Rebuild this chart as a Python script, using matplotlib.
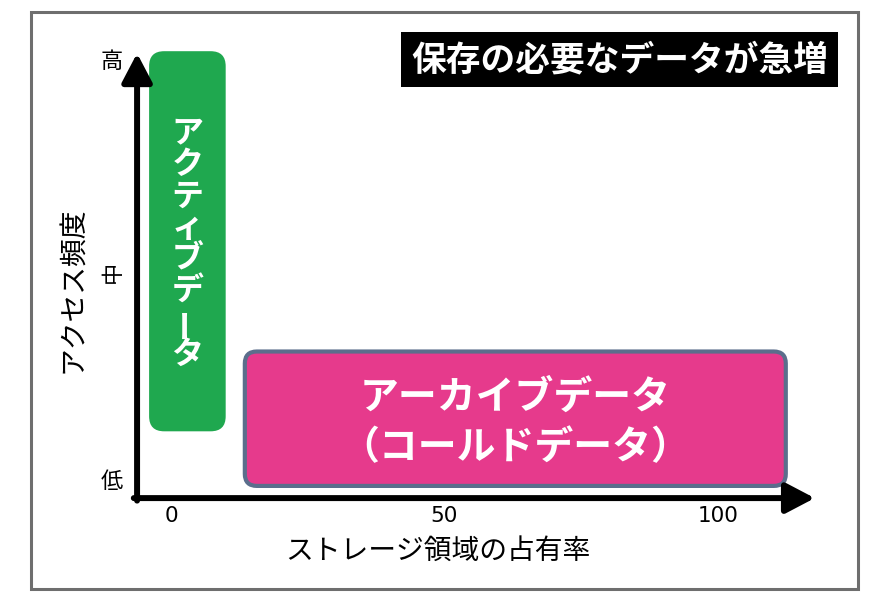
import matplotlib
matplotlib.use('Agg')
import matplotlib.pyplot as plt
from matplotlib.patches import FancyBboxPatch, Rectangle

plt.rcParams['font.family'] = ['Noto Sans CJK JP', 'DejaVu Sans']

# chart data (share of storage on x, access frequency on y)
X_TICKS = [0, 50, 100]
Y_LEVELS = ['低', '中', '高']
Y_POS = [0, 1, 2]
ACTIVE_X = [-4.0, 10.0]
ACTIVE_Y = [0.24, 2.05]
ARCHIVE_X = [13.5, 112.4]
ARCHIVE_Y = [-0.02, 0.62]
ACTIVE_LABEL = 'アクティブデータ'
ARCHIVE_LINES = ['アーカイブデータ', '（コールドデータ）']
TITLE = '保存の必要なデータが急増'
XLABEL = 'ストレージ領域の占有率'
YLABEL = 'アクセス頻度'

GREEN = '#1fa84f'
PINK = '#e63a8c'
BORDER = '#5b6e8c'
FRAME = '#6e6e6e'

fig = plt.figure(figsize=(8.87, 6.06), dpi=100)
ax = fig.add_axes([0.0941, 0.0838, 0.851, 0.8837])
ax.set_xlim(-16, 122)
ax.set_ylim(-0.35, 2.2)
ax.axis('off')

# outer frame
fig.patches.append(Rectangle((31 / 887, 1 - 589 / 606), 827 / 887, 577 / 606,
                             transform=fig.transFigure, fill=False,
                             edgecolor=FRAME, linewidth=2.2))

# aspect between x and y units (pixels per unit)
px_x = 0.851 * 887 / 138
px_y = 0.8837 * 606 / 2.55
aspect = px_x / px_y
radius = 15 / px_x

# active data box
ax.add_patch(FancyBboxPatch((ACTIVE_X[0], ACTIVE_Y[0]), ACTIVE_X[1] - ACTIVE_X[0],
                            ACTIVE_Y[1] - ACTIVE_Y[0],
                            boxstyle=f'round,pad=0,rounding_size={radius}',
                            mutation_aspect=aspect, facecolor=GREEN,
                            edgecolor='none', zorder=2))
cx = sum(ACTIVE_X) / 2
cy = sum(ACTIVE_Y) / 2
n = len(ACTIVE_LABEL)
pitch = 31.7 * 0.72
for i, ch in enumerate(ACTIVE_LABEL):
    ax.annotate(ch, xy=(cx, cy), xytext=(0, ((n - 1) / 2 - i) * pitch - 2),
                textcoords='offset points', ha='center', va='center',
                color='white', fontsize=23, fontweight='bold',
                rotation=90 if ch == 'ー' else 0, zorder=3)

# archive data box
ax.add_patch(FancyBboxPatch((ARCHIVE_X[0], ARCHIVE_Y[0]), ARCHIVE_X[1] - ARCHIVE_X[0],
                            ARCHIVE_Y[1] - ARCHIVE_Y[0],
                            boxstyle=f'round,pad=0,rounding_size={radius * 0.8}',
                            mutation_aspect=aspect, facecolor=PINK,
                            edgecolor=BORDER, linewidth=3, zorder=2))
ax_c = sum(ARCHIVE_X) / 2
ay_c = sum(ARCHIVE_Y) / 2
for i, line in enumerate(ARCHIVE_LINES):
    ax.annotate(line, xy=(ax_c, ay_c), xytext=(0, (21 - 50 * i) * 0.72),
                textcoords='offset points', ha='center', va='center',
                color='white', fontsize=28, fontweight='bold', zorder=3)

# axes arrows
axis_y = -0.078
axis_x = -6.2
arrow = dict(arrowstyle='-|>,head_length=0.8,head_width=0.42', color='black',
             linewidth=4.3, shrinkA=0, shrinkB=0, mutation_scale=22)
ax.annotate('', xy=(117.7, axis_y), xytext=(-6.8, axis_y), arrowprops=arrow, zorder=4)
ax.annotate('', xy=(axis_x, 2.04), xytext=(axis_x, axis_y - 0.012), arrowprops=arrow, zorder=4)

# tick labels
for t in X_TICKS:
    ax.text(t, -0.163, str(t), ha='center', va='center', fontsize=15.5,
            family=['DejaVu Sans'])
for lvl, p in zip(Y_LEVELS, Y_POS):
    ax.text(-10.8, p, lvl, ha='center', va='center', fontsize=16,
            rotation=90 if lvl == '中' else 0)

# axis labels
fig.text(0.4938, 0.0908, XLABEL, ha='center', va='center', fontsize=20)
fig.text(0.0823, 0.5215, YLABEL, ha='center', va='center', fontsize=20, rotation=90)

# title box
fig.patches.append(Rectangle((401 / 887, 1 - 87 / 606), 437 / 887, 55 / 606,
                             transform=fig.transFigure, facecolor='black',
                             edgecolor='none'))
fig.text(619.5 / 887, 1 - 60 / 606, TITLE, ha='center', va='center',
         color='white', fontsize=25, fontweight='bold')

fig.savefig('out.png', dpi=100, facecolor='white')
